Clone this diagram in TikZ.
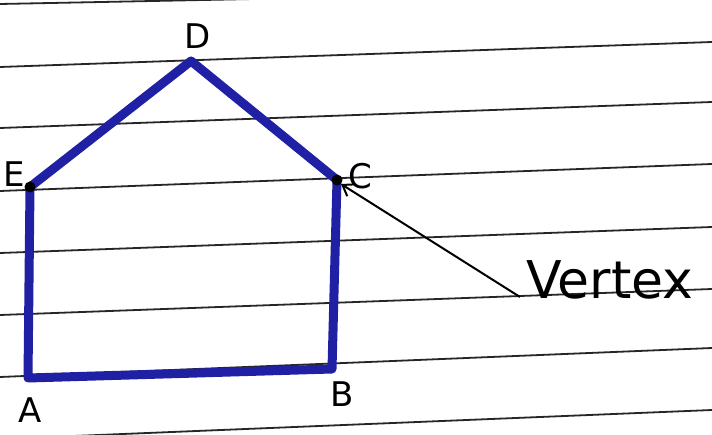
\documentclass[tikz,border=0pt]{standalone}
\usepackage{fontspec}
\setmainfont{DejaVu Sans}
\usetikzlibrary{arrows.meta}
\definecolor{inkblue}{RGB}{32,32,165}
\begin{document}
\begin{tikzpicture}[x=1pt,y=-1pt,
  ruled/.style={black!85,line width=1.8pt},
  edge/.style={inkblue,line width=9pt,line cap=round,line join=round},
  lab/.style={font=\fontsize{34}{34}\selectfont,inner sep=0pt},
  vtx/.style={circle,fill=black,inner sep=0pt,minimum size=11pt}]
\useasboundingbox[fill=white] (0,0) rectangle (712,435);
% notebook lines
\foreach \a/\b in {4/-10,67/42,128/102,191/164,253/227,315/289,377/348,439/410}
  \draw[ruled] (0,\a) -- (712,\b);
% vertices
\coordinate (A) at (28,378);
\coordinate (B) at (332,369);
\coordinate (C) at (337,180);
\coordinate (D) at (191,61);
\coordinate (E) at (30,187);
\draw[edge] (A) -- (B) -- (C) -- (D) -- (E) -- cycle;
\node[vtx] (Cd) at (C) {};
\node[vtx] (Ed) at (E) {};
\node[lab] (lD) at (198,36) {D};
\node[lab] (lE) at (14,174) {E};
\node[lab] (lC) at (360,176) {C};
\node[lab] (lB) at (342,394) {B};
\node[lab] (lA) at (30,410) {A};
\node[lab,anchor=west,font=\fontsize{52}{52}\selectfont] (vt) at (526,280) {Vertex};
\coordinate (vend) at (520,297);
\draw[line width=2pt,-{Straight Barb[length=10pt,width=14pt]}] (vend) -- (Cd.south east);
\end{tikzpicture}
\end{document}
